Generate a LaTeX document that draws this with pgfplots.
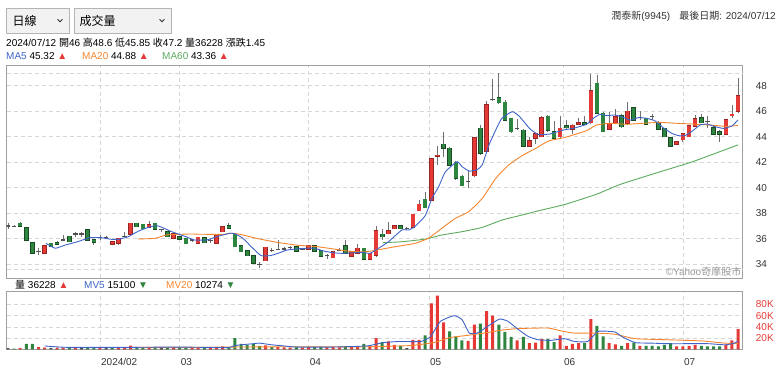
\documentclass[border=0pt]{standalone}
\usepackage{pgfplots}
\pgfplotsset{compat=1.18}
\usepackage{pgfplotstable}
\usepackage{fontspec}
\setmainfont{Liberation Sans}
\newfontfamily\cjk{Noto Sans CJK TC}
\definecolor{upred}{HTML}{E53935}
\definecolor{dngreen}{HTML}{2E8540}
\definecolor{wickgray}{HTML}{707070}
\definecolor{dojigray}{HTML}{505050}
\definecolor{ma5}{HTML}{3E64C8}
\definecolor{ma20}{HTML}{F5852D}
\definecolor{ma60}{HTML}{5BAA5E}
\definecolor{gridc}{HTML}{D6D6D6}
\definecolor{framec}{HTML}{A0A0A0}
\definecolor{txt}{HTML}{333333}
\definecolor{boxfill}{HTML}{F2F2F2}
\definecolor{boxline}{HTML}{B4B4B4}
\pgfplotsset{
  candlebody/.style 2 args={draw=none, mark=none, forget plot,
     error bars/.cd, y dir=plus, y explicit, error mark=none,
     error bar style={draw=#2, line width=#1, line cap=butt}},
}
% up candles (close > open)
\pgfplotstableread{
i o h l c
6 34.85 35.5 34.8 35.43
17 35.56 35.8 35.5 35.77
18 35.64 36.05 35.5 36.03
20 36.37 37.25 36.3 37.2
23 36.9 37.4 36.85 37.07
27 36.03 36.45 36.0 36.4
31 35.64 36.15 35.6 36.1
34 35.64 36.35 35.6 36.34
35 36.55 36.95 36.5 36.94
42 34.28 35.35 34.25 35.32
49 35.17 35.5 35.1 35.43
53 34.5 35.0 34.45 34.98
56 34.65 35.0 34.6 34.98
57 34.85 35.6 34.8 35.25
59 34.38 34.9 34.3 34.85
60 34.7 37.0 34.6 36.6
62 36.4 37.3 36.35 36.6
63 36.8 37.05 36.75 36.99
66 36.9 37.95 36.85 37.9
67 38.2 39.0 38.15 38.7
69 39.03 42.3 39.0 42.25
70 42.45 43.3 41.8 42.55
76 40.94 44.0 40.8 43.92
78 42.88 46.8 42.8 46.5
85 43.27 44.0 43.2 43.66
86 43.9 44.3 43.4 44.2
87 44.0 45.6 43.95 45.5
90 44.0 45.6 43.9 44.65
92 44.6 45.0 44.2 44.9
93 45.0 45.5 44.9 45.1
95 45.1 48.95 45.0 47.58
98 44.6 45.9 44.5 45.05
99 45.1 46.2 45.05 45.57
101 45.05 46.7 44.9 46.0
109 43.42 43.65 43.35 43.6
110 43.75 44.3 43.55 44.2
111 44.0 44.9 43.95 44.84
112 44.84 45.7 44.8 45.38
117 44.2 45.4 44.1 45.3
118 45.65 46.5 45.5 45.75
119 46.0 48.6 45.85 47.2
}\upc
% down candles (close < open)
\pgfplotstableread{
i o h l c
2 37.2 37.3 36.95 37.0
3 36.87 36.9 35.85 35.9
4 35.7 35.75 34.85 34.85
7 35.64 35.7 35.4 35.43
8 35.7 35.8 35.55 35.56
10 36.2 36.25 35.75 35.77
13 36.7 36.8 35.9 35.9
14 35.9 35.95 35.5 35.75
21 37.2 37.25 36.9 36.95
22 37.13 37.15 36.8 36.8
24 37.2 37.25 36.7 36.73
26 36.55 36.6 36.15 36.15
28 36.16 36.2 35.95 35.95
29 36.03 36.05 35.6 35.6
32 36.08 36.1 35.7 35.7
36 37.0 37.2 36.8 36.85
37 36.34 36.4 35.35 35.38
38 35.43 35.45 34.95 34.98
39 35.06 35.1 34.65 34.67
40 34.65 34.7 34.05 34.07
47 35.38 35.45 35.0 35.04
50 35.43 35.5 35.0 35.04
51 35.04 35.1 34.65 34.65
55 35.43 35.9 34.8 34.85
58 35.25 35.3 34.35 34.38
61 36.34 36.8 35.9 36.15
64 37.0 37.1 36.75 36.8
68 39.1 39.7 38.4 38.43
71 43.4 44.4 42.4 43.1
72 43.08 43.2 41.7 41.78
73 42.0 42.1 40.6 40.73
74 40.9 41.0 40.1 40.16
77 44.65 44.9 42.6 42.7
80 47.06 49.0 46.6 46.67
81 46.7 46.9 45.2 45.3
82 45.44 45.5 44.3 44.4
84 44.5 44.6 43.2 43.27
88 45.6 45.7 44.4 44.5
89 44.4 45.2 43.8 43.9
91 44.86 45.3 44.6 44.7
94 45.1 45.6 44.9 44.97
96 48.18 48.8 45.8 45.83
97 45.83 45.9 44.35 44.4
100 45.65 45.8 44.7 44.78
102 46.27 46.3 45.25 45.3
104 45.44 45.5 44.95 44.98
106 45.1 45.2 44.5 44.58
107 44.65 44.7 43.95 44.0
108 43.92 43.95 43.2 43.27
113 45.5 45.8 45.05 45.1
115 44.7 44.8 44.15 44.2
116 44.4 44.5 43.6 44.18
}\dnc
% doji (open = close)
\pgfplotstableread{
i o h l c
0 37.0 37.2 36.8 37.0
1 36.95 37.05 36.9 36.95
5 35.0 35.3 34.7 35.0
9 35.9 36.3 35.8 35.9
11 36.37 36.5 36.1 36.37
12 36.37 36.5 36.15 36.37
15 36.08 36.3 35.9 36.08
16 36.08 36.2 35.95 36.08
19 36.15 36.5 36.1 36.15
25 36.73 36.8 36.5 36.73
30 35.9 36.0 35.75 35.9
33 35.85 35.95 35.7 35.85
41 34.0 34.2 33.7 34.0
43 35.1 35.25 34.95 35.1
44 35.17 35.9 35.1 35.17
45 35.2 35.35 35.05 35.2
46 35.3 35.4 35.2 35.3
48 35.2 35.3 35.1 35.2
52 34.67 34.8 34.4 34.67
54 35.1 35.3 35.0 35.1
65 36.8 36.9 36.7 36.8
75 40.5 41.3 40.0 40.5
79 46.9 48.5 46.8 46.9
83 44.65 45.4 44.5 44.65
103 45.5 46.0 45.3 45.5
105 45.57 45.8 45.3 45.57
114 45.2 45.6 44.7 45.2
}\djc
% volume in thousands: r = up day, g = down day, k = unchanged
\pgfplotstableread{
i r g k
0 0 0 2
1 0 1 0
2 2 0 0
3 0 9.5 0
4 0 9.5 0
5 4 0 0
6 3 0 0
7 0 0 2.5
8 3 0 0
9 3 0 0
10 0 3.5 0
11 2.5 0 0
12 0 0 2.5
13 0 3.5 0
14 0 2.5 0
15 2 0 0
16 0 0 2
17 0 3.5 0
18 4 0 0
19 3 0 0
20 6.5 0 0
21 0 4 0
22 0 3.5 0
23 3 0 0
24 0 3 0
25 0 0 2.5
26 0 3.5 0
27 3 0 0
28 0 3.5 0
29 0 3.5 0
30 3 0 0
31 4 0 0
32 0 3.5 0
33 3 0 0
34 4 0 0
35 5 0 0
36 0 4 0
37 0 20 0
38 0 9.5 0
39 0 8 0
40 0 9.5 0
41 0 6 0
42 7 0 0
43 0 4 0
44 4 0 0
45 3.5 0 0
46 3 0 0
47 0 4.5 0
48 3 0 0
49 4 0 0
50 0 4 0
51 0 4.5 0
52 3.5 0 0
53 4 0 0
54 3.5 0 0
55 0 5.5 0
56 4 0 0
57 5 0 0
58 0 9.5 0
59 5 0 0
60 20 0 0
61 0 13 0
62 14 0 0
63 8 0 0
64 0 6 0
65 0 0 2
66 17 0 0
67 17 0 0
68 0 25 0
69 82 0 0
70 96 0 0
71 48 0 0
72 0 32 0
73 0 23 0
74 0 16 0
75 15 0 0
76 44 0 0
77 0 46 0
78 68 0 0
79 60 0 0
80 0 44 0
81 0 31 0
82 0 22 0
83 16 0 0
84 0 22 0
85 11 0 0
86 12 0 0
87 18 0 0
88 0 18 0
89 0 13 0
90 25 0 0
91 6 0 0
92 9.5 0 0
93 11 0 0
94 0 11 0
95 54 0 0
96 0 42 0
97 0 23 0
98 11 0 0
99 9 0 0
100 0 6 0
101 11 0 0
102 0 12 0
103 6 0 0
104 0 6 0
105 0 6 0
106 0 5 0
107 0 8 0
108 0 11 0
109 5 0 0
110 5 0 0
111 6 0 0
112 8 0 0
113 0 6 0
114 0 5 0
115 0 5 0
116 0 5 0
117 8 0 0
118 16 0 0
119 36.2 0 0
}\volumes
\newcommand\hdr{\fontsize{10}{12}\selectfont}
\newcommand\wicks[1]{\addplot[candlebody={0.8pt}{wickgray}] table[x=i, y=l, y error plus expr={\thisrow{h}-\thisrow{l}}] {#1};}
\begin{document}
\begin{tikzpicture}[x=1pt,y=1pt]
\useasboundingbox (0,0) rectangle (780,371);
% ---------------- price panel
\begin{axis}[
  at={(6.7pt,93pt)}, anchor=south west, scale only axis,
  width=736pt, height=213pt,
  xmin=-0.2, xmax=119.75, ymin=32.92, ymax=49.62,
  axis line style={framec, line width=0.8pt},
  xtick={15,28,49,68.6,90.45,110}, xticklabels={},
  ytick={34,36,...,48},
  extra y ticks={33.6,49.0}, extra y tick labels={},
  extra y tick style={grid=major},
  xmajorgrids, ymajorgrids,
  grid style={gridc, dash pattern=on 4pt off 3pt, line width=0.7pt},
  major tick length=0pt,
  yticklabel pos=right,
  yticklabel style={anchor=west, inner sep=0pt, xshift=13pt, font=\hdr, text=txt},
  /pgf/number format/assume math mode=true,
]
\wicks{\upc}
\wicks{\dnc}
\wicks{\djc}
\addplot[candlebody={4.6pt}{upred!65!black}] table[x=i, y expr={\thisrow{o}-0.05}, y error plus expr={\thisrow{c}-\thisrow{o}+0.1}] {\upc};
\addplot[candlebody={3.4pt}{upred}] table[x=i, y=o, y error plus expr={\thisrow{c}-\thisrow{o}}] {\upc};
\addplot[candlebody={4.6pt}{dngreen!55!black}] table[x=i, y expr={\thisrow{c}-0.05}, y error plus expr={\thisrow{o}-\thisrow{c}+0.1}] {\dnc};
\addplot[candlebody={3.4pt}{dngreen}] table[x=i, y=c, y error plus expr={\thisrow{o}-\thisrow{c}}] {\dnc};
\addplot[candlebody={4.4pt}{dojigray}] table[x=i, y expr={\thisrow{c}-0.05}, y error plus expr={0.1}] {\djc};
% MA lines
\addplot[ma60, line width=0.9pt, smooth, tension=0.3] coordinates {(61.1,35.69)(64.2,35.76)(68,35.97)(70.7,36.29)(74,36.55)(77.3,36.89)(80.5,37.46)(83.8,37.86)(87,38.25)(90.8,38.69)(96,39.5)(99.8,40.26)(106.3,41.25)(111.6,42.04)(119,43.36)};
\addplot[ma20, line width=0.9pt, smooth, tension=0.3] coordinates {(21.2,35.98)(24,36.03)(25.9,36.3)(29.7,36.37)(31.3,36.35)(35.2,36.34)(36.2,36.43)(37.8,36.35)(40.5,36.03)(43.8,35.72)(47,35.5)(50.3,35.38)(53,35.2)(55.2,35.04)(56.8,34.98)(58.4,34.98)(60,35.1)(63.1,35.37)(66.3,35.63)(68.5,36.03)(70.7,36.81)(72.9,37.59)(75.1,38.12)(77.3,39.16)(79.5,40.73)(81.6,41.78)(83.8,42.51)(86,43.08)(88.1,43.66)(90.6,43.92)(92.1,44.13)(94.3,44.47)(95.9,44.91)(98.1,45.05)(100.8,44.97)(103.5,45.05)(106.2,45.12)(108.9,45.05)(111.6,44.99)(114.4,44.91)(117.1,44.81)(119,44.88)};
\addplot[ma5, line width=0.9pt, smooth, tension=0.3] coordinates {(6.2,35.64)(7.7,35.25)(9.3,35.5)(11.4,35.77)(13.3,36.08)(15.2,36.08)(16.9,35.95)(18,35.95)(19.6,36.16)(21.3,36.6)(23.2,36.94)(24.5,37.0)(26.7,36.55)(29,36.16)(30.4,35.9)(32.4,35.9)(34,36.16)(36.2,36.43)(37.1,36.37)(38.3,36.03)(39.4,35.5)(40.5,34.98)(41.3,34.67)(42.7,34.67)(44,34.85)(45.4,35.1)(47,35.2)(48.6,35.25)(50,35.25)(51.4,35.04)(53,34.9)(54.6,34.85)(56.3,34.9)(57.9,34.93)(59,34.85)(60.4,35.25)(62,35.76)(64.2,36.68)(65.3,36.68)(66.3,36.94)(68,37.8)(69.1,39.16)(70.2,40.08)(71.3,41.25)(73.2,42.04)(74,41.65)(75.2,41.3)(76.4,41.4)(77.3,41.78)(78.4,43.35)(79.5,44.52)(80.5,45.44)(82.2,45.96)(83.4,45.57)(85,44.65)(86.4,44.18)(88.3,44.21)(90.5,44.52)(92.1,44.65)(94.3,44.97)(95.4,45.44)(96.5,45.75)(97.6,45.65)(98.9,45.7)(100,45.57)(101.4,45.3)(102.7,45.49)(104.1,45.44)(105.5,45.23)(106.8,44.7)(108.2,44.26)(109.3,44.08)(110.3,44.08)(111.4,44.39)(112.8,44.91)(113.9,44.99)(115.3,44.78)(116.6,44.65)(118,44.84)(119,45.32)};
\end{axis}
% ---------------- volume panel
\begin{axis}[
  at={(6.7pt,21.7pt)}, anchor=south west, scale only axis,
  width=736pt, height=57.6pt,
  xmin=-0.2, xmax=119.75, ymin=0, ymax=102.9,
  axis line style={framec, line width=0.8pt},
  xtick={15,28,49,68.6,90.45,110},
  xticklabels={2024/02,03,04,05,06,07},
  xticklabel style={anchor=west, inner sep=0pt, xshift=1pt, yshift=-13pt, font=\hdr, text=txt},
  ytick={20,40,60,80}, yticklabels={20K,40K,60K,80K},
  xmajorgrids, ymajorgrids,
  grid style={gridc, dash pattern=on 4pt off 3pt, line width=0.7pt},
  major tick length=0pt,
  yticklabel pos=right,
  yticklabel style={anchor=west, inner sep=0pt, xshift=13pt, font=\hdr, text=upred},
]
\addplot[ybar, bar width=3pt, bar shift=0pt, fill=upred, draw=none] table[x=i, y=r] {\volumes};
\addplot[ybar, bar width=3pt, bar shift=0pt, fill=dngreen, draw=none] table[x=i, y=g] {\volumes};
\addplot[ybar, bar width=3pt, bar shift=0pt, fill=dojigray, draw=none] table[x=i, y=k] {\volumes};
\addplot[ma20, line width=0.9pt, smooth, tension=0.3] coordinates {(20.4,3.5)(30,3.5)(37,4)(45,4.5)(50,4.5)(58.5,4.5)(63.9,6)(66,7)(69.4,12)(72.1,21)(75,25)(77.6,29)(80.3,34)(83.1,37)(88,38)(90.1,33)(92.3,29)(95.5,29)(98.9,27)(102.2,19)(107.6,17)(113,15)(116.9,11)(119,10.3)};
\addplot[ma5, line width=0.9pt, smooth, tension=0.3] coordinates {(6,6)(9.6,3.5)(20.4,3.5)(27.5,4)(34,3.2)(36,3.2)(37,6.5)(38,8)(40,10)(41,11)(43,8)(45,6)(47,4)(53,4)(58.5,6)(61.2,12)(63.9,14)(67.3,14)(68.9,23)(70.5,50)(72.7,60)(74,53)(75.2,29)(76.5,29)(78.2,41)(80.1,54)(81.5,50)(83.1,36)(84.8,23)(86.4,17)(88.5,16)(90.7,19)(92.3,14)(94.5,14)(96.2,32)(98.9,31)(100,23)(102.2,12)(104.9,11)(107.6,10)(110.4,10)(114.1,10)(116.9,8)(118.4,11)(119,15.1)};
\end{axis}
% ---------------- texts
\node[anchor=east, inner sep=0pt, text=gray!80, font=\hdr] at (741.5,99) {©Yahoo{\cjk 奇摩股市}};
\draw[boxline, fill=boxfill, line width=0.7pt] (6.7,337.7) rectangle (69.3,362.7);
\draw[boxline, fill=boxfill, line width=0.7pt] (74,337.7) rectangle (171.7,362.7);
\node[anchor=west, inner sep=0pt, font=\fontsize{12}{14}\selectfont\cjk] at (12.5,350) {日線};
\node[anchor=west, inner sep=0pt, font=\fontsize{12}{14}\selectfont\cjk] at (79.5,350) {成交量};
\draw[txt, line width=0.8pt] (57.5,351.7) -- (60,349.2) -- (62.5,351.7);
\draw[txt, line width=0.8pt] (159.5,351.7) -- (162,349.2) -- (164.5,351.7);
\node[anchor=east, inner sep=0pt, text=txt, font=\hdr] at (776,355) {{\cjk 潤泰新}(9945)\hspace{9pt}{\cjk 最後日期}: 2024/07/12};
\node[anchor=west, inner sep=0pt, text=black, font=\hdr] at (6,328.5) {2024/07/12 {\cjk 開}46 {\cjk 高}48.6 {\cjk 低}45.85 {\cjk 收}47.2 {\cjk 量}36228 {\cjk 漲跌}1.45};
\node[anchor=west, inner sep=0pt, font=\hdr] at (6,315) {\textcolor{ma5}{MA5} 45.32 \textcolor{upred}{▲}};
\node[anchor=west, inner sep=0pt, font=\hdr] at (82,315) {\textcolor{ma20}{MA20} 44.88 \textcolor{upred}{▲}};
\node[anchor=west, inner sep=0pt, font=\hdr] at (162,315) {\textcolor{ma60}{MA60} 43.36 \textcolor{upred}{▲}};
\node[anchor=west, inner sep=0pt, font=\hdr] at (15,86) {{\cjk 量} 36228 \textcolor{upred}{▲}};
\node[anchor=west, inner sep=0pt, font=\hdr] at (84,86) {\textcolor{ma5}{MV5} 15100 \textcolor{dngreen}{▼}};
\node[anchor=west, inner sep=0pt, font=\hdr] at (166,86) {\textcolor{ma20}{MV20} 10274 \textcolor{dngreen}{▼}};
\end{tikzpicture}
\end{document}
